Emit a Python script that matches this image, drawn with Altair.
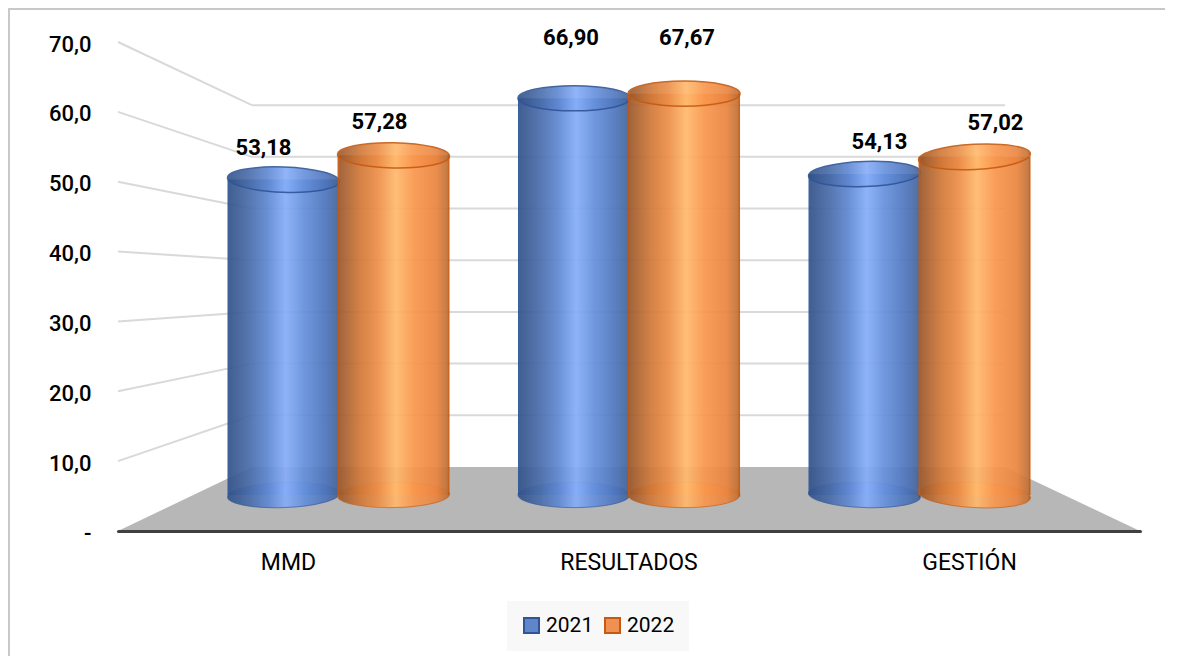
import altair as alt
import pandas as pd

CATEGORIES = ["MMD", "RESULTADOS", "GESTIÓN"]
SERIES = ["2021", "2022"]
VALUES_2021 = [53.18, 66.90, 54.13]
VALUES_2022 = [57.28, 67.67, 57.02]
GRID_VALUES = [10, 20, 30, 40, 50, 60, 70]
FONT = "Roboto"

def fmt(v):
    return f"{v:.2f}".replace(".", ",")

# Perspective: front plane (axis units), cylinder plane and back wall
def cyl(v):
    return 5.15 + 0.849 * v

def back(v):
    return 9.16 + 0.74 * v

WALL_L, WALL_R = 0.131, 0.868

rows = []
TILT = {"2021": [2, 0, 358], "2022": [1, 0, 357]}
BOTTOM_TILT = {"2021": [358, 0, 2], "2022": [359, 0, 3]}
for s, vals in zip(SERIES, [VALUES_2021, VALUES_2022]):
    for i, (c, v) in enumerate(zip(CATEGORIES, vals)):
        rows.append(dict(cat=c, serie=s, value=v, top=cyl(v), base=cyl(0), txt=fmt(v),
                         tilt=TILT[s][i], btilt=BOTTOM_TILT[s][i]))
df = pd.DataFrame(rows)

side = pd.DataFrame([dict(x=0, x2=WALL_L, y=g, y2=back(g)) for g in GRID_VALUES])
backl = pd.DataFrame([dict(x=WALL_L, x2=WALL_R, y=back(g)) for g in GRID_VALUES])
floor = pd.DataFrame(dict(x=[0, WALL_L, WALL_R, 1], y=[0, back(0), back(0), 0], y0=[0, 0, 0, 0]))

def grad(stops):
    return alt.LinearGradient(gradient="linear", x1=0, x2=1, y1=0, y2=0,
                              stops=[alt.GradientStop(offset=o, color=c) for o, c in stops])

BLUE = grad([(0, "#2f5597"), (0.012, "#2f5597"), (0.02, "#34548a"), (0.2, "#4a6dab"), (0.36, "#5f88d2"),
             (0.52, "#86adf8"), (0.68, "#6690dc"), (0.88, "#4d74ba"), (0.98, "#466599"), (0.988, "#2f5597"), (1, "#2f5597")])
ORANGE = grad([(0, "#c55a11"), (0.012, "#c55a11"), (0.02, "#9c5a2e"), (0.2, "#d07838"), (0.36, "#ec8e48"),
               (0.52, "#ffb96c"), (0.68, "#f9974e"), (0.88, "#ea8540"), (0.98, "#c07238"), (0.988, "#c55a11"), (1, "#c55a11")])
FILL = {"2021": BLUE, "2022": ORANGE}
EDGE = {"2021": "#2f5597", "2022": "#c55a11"}
LEGEND_FILL = ["#5f86cb", "#ee9153"]
BAR_W = 112
ELLIPSE = "M-1,0A1,0.225 0 1,1 1,0A1,0.225 0 1,1 -1,0Z"

Y_AXIS = alt.Axis(values=[0] + GRID_VALUES, title=None, domain=False, ticks=False, grid=False,
                  labelPadding=27, labelOffset=2, labelFont=FONT, labelFontSize=22, labelFontWeight=500,
                  labelColor="#000000",
                  labelExpr="datum.value == 0 ? '-' : replace(format(datum.value, '.1f'), '.', ',')")
Y_SCALE = alt.Scale(domain=[0, 70], nice=False)
QX = alt.Scale(domain=[0, 1], nice=False, zero=False)

def Y(field):
    return alt.Y(field, type="quantitative", scale=Y_SCALE, axis=Y_AXIS, stack=None)

floor_l = alt.Chart(floor).mark_area(color="#b7b7b7", interpolate="linear", opacity=1, orient="vertical").encode(
    x=alt.X("x:Q", scale=QX, axis=None), y=Y("y"), y2=alt.Y2("y0:Q"))
side_l = alt.Chart(side).mark_rule(color="#d9d9d9", strokeWidth=2).encode(
    x=alt.X("x:Q", scale=QX, axis=None), x2="x2:Q", y=Y("y"), y2="y2:Q")
back_l = alt.Chart(backl).mark_rule(color="#d9d9d9", strokeWidth=2).encode(
    x=alt.X("x:Q", scale=QX, axis=None), x2="x2:Q", y=Y("y"))
walls = alt.layer(side_l, back_l, floor_l)

X_ENC = alt.X("cat:N", title=None,
              scale=alt.Scale(domain=CATEGORIES, paddingInner=0, paddingOuter=0.259),
              axis=alt.Axis(labelAngle=0, title=None, ticks=False, grid=False, zindex=1,
                            domainColor="#404040", domainWidth=3, domainCap="round",
                            labelFont=FONT, labelFontSize=23, labelColor="#000000", labelPadding=20,
                            labelOffset={"condition": [{"test": "datum.value === 'MMD'", "value": -50},
                                                       {"test": "datum.value === 'GESTIÓN'", "value": 50}],
                                         "value": 0}))
XO = alt.XOffset("serie:N", scale=alt.Scale(domain=SERIES, paddingInner=0, paddingOuter=0.32))

layers = []
for s in SERIES:
    d = df[df.serie == s]
    base = alt.Chart(d).encode(x=X_ENC, xOffset=XO)
    layers.append(base.mark_point(shape=ELLIPSE, size=BAR_W ** 2, filled=True, fill=FILL[s], opacity=0.92,
                                  stroke=EDGE[s], strokeWidth=1, strokeOpacity=0.7).encode(
        y=Y("base"), angle=alt.Angle("btilt:Q", scale=None)))
    layers.append(base.mark_bar(width=BAR_W, fill=FILL[s], opacity=0.93).encode(
        y=Y("top"), y2="base:Q"))
    layers.append(base.mark_point(shape=ELLIPSE, size=BAR_W ** 2, filled=True, fill=FILL[s], opacity=0.9,
                                  stroke=EDGE[s], strokeWidth=1.5).encode(
        y=Y("top"), angle=alt.Angle("tilt:Q", scale=None)))

# Legend comes from an invisible (size 0) layer carrying the series colours
legend = alt.Legend(orient="none", legendX=389, legendY=559, direction="horizontal", title=None,
                    symbolType="square", symbolSize=225, symbolStrokeWidth=2, symbolOpacity=1,
                    labelFont=FONT, labelFontSize=21, labelColor="#000000", labelOffset=4,
                    fillColor="#f8f8f8", padding=14, columnPadding=7)
layers.append(alt.Chart(df).mark_point(filled=True, size=0).encode(
    x=X_ENC, xOffset=XO, y=Y("top"),
    color=alt.Color("serie:N", scale=alt.Scale(domain=SERIES, range=LEGEND_FILL), legend=legend),
    stroke=alt.Stroke("serie:N", scale=alt.Scale(domain=SERIES, range=[EDGE[s] for s in SERIES]), legend=legend),
))

# Data labels sit on a nearer plane, hand-placed as in the reference
LABEL_DX = {"2021": [-20, -3, 15], "2022": [-14, 3, 21]}
LABEL_DY = {"2021": [-32, -60, -32], "2022": [-33, -56, -34]}
for s in SERIES:
    for i, c in enumerate(CATEGORIES):
        d = df[(df.serie == s) & (df.cat == c)]
        layers.append(alt.Chart(d).mark_text(font=FONT, fontSize=22, fontWeight="bold", color="#000000",
                                             dx=LABEL_DX[s][i], dy=LABEL_DY[s][i]).encode(
            x=X_ENC, xOffset=XO, y=Y("top"), text="txt:N"))

cylinders = alt.layer(*layers)

frame_l = alt.Chart(pd.DataFrame({"a": [0]})).mark_rule(color="#c8c8c8", strokeWidth=2).encode(
    x=alt.value(-109), y=alt.value(-33), y2=alt.value(620))
frame_t = alt.Chart(pd.DataFrame({"a": [0]})).mark_rule(color="#c8c8c8", strokeWidth=2).encode(
    y=alt.value(-33), x=alt.value(-110), x2=alt.value(1050))

chart = alt.layer(frame_l, frame_t, walls, cylinders).resolve_scale(x="independent").properties(
    width=1022, height=489,
    padding={"left": 110, "top": 34, "right": 25, "bottom": 125},
    autosize=alt.AutoSizeParams(type="none"),
    background="#ffffff",
).configure_view(stroke=None)

chart.save("out.html", embed_options={"renderer": "svg", "actions": False})
